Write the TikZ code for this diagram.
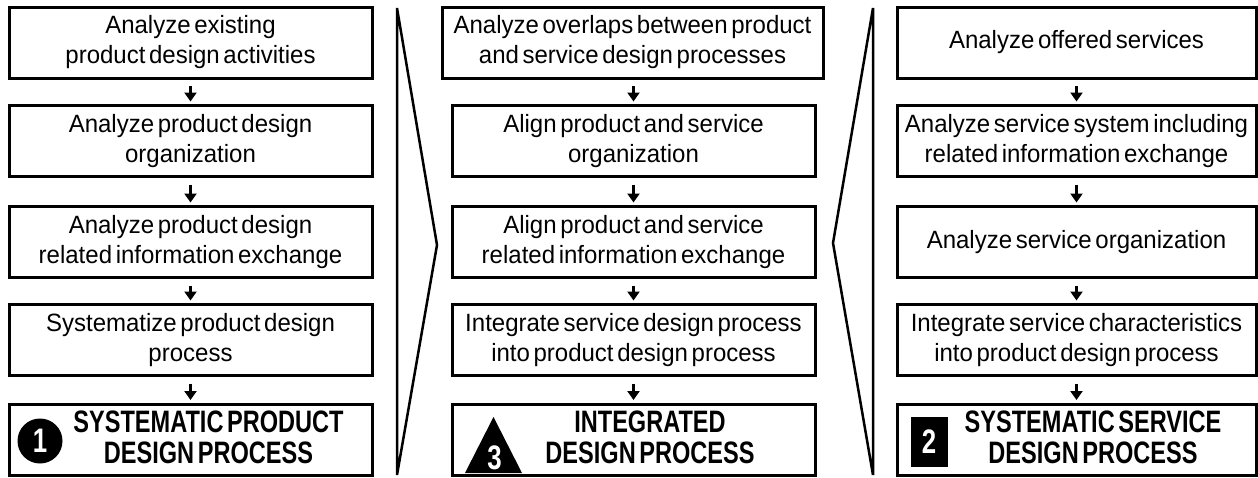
\documentclass[tikz,border=0pt]{standalone}
\usepackage{fontspec}
\setmainfont{Liberation Sans}
\newfontfamily\regfont[FakeStretch=0.96,WordSpace=0.55]{Liberation Sans}
\newfontfamily\boldfont[FakeStretch=0.76,WordSpace=0.55]{Liberation Sans}
\usetikzlibrary{arrows.meta}
\begin{document}
\begin{tikzpicture}[x=1pt,y=-1pt,
  box/.style={draw, line width=3pt, outer sep=0pt, inner sep=0pt,
    minimum height=71pt, align=center,
    font=\regfont\fontsize{25}{30}\selectfont},
  lbox/.style={box, minimum width=363pt},
  mbox/.style={box, minimum width=363pt},
  rbox/.style={box, minimum width=359pt},
  bigtext/.style={inner sep=0pt, outer sep=0pt, align=center,
    font=\boldfont\bfseries\fontsize{31}{31}\selectfont},
  badge/.style={fill=black, draw=none},
  digit/.style={text=white, inner sep=0pt,
    font=\boldfont\bfseries\fontsize{34}{34}\selectfont},
  arr/.style={line width=3pt, -{Triangle[width=12pt,length=9pt]},
    shorten <=8pt, shorten >=4pt},
  chev/.style={line width=2.5pt}]
\useasboundingbox (0,0) rectangle (1258,477);

% left column
\node[lbox] (L1) at (190.5,42.5) {Analyze existing\\product design activities};
\node[lbox] (L2) at (190.5,141) {Analyze product design\\organization};
\node[lbox] (L3) at (190.5,242) {Analyze product design\\related information exchange};
\node[lbox] (L4) at (190.5,340) {Systematize product design\\process};
\node[lbox] (L5) at (190.5,439.5) {};
\node[badge, circle, minimum size=45pt, inner sep=0pt] (B1) at (40,441) {};
\node[digit] (D1) at (B1.center) {1};
\node[bigtext] (T1) at (208.5,437) {SYSTEMATIC PRODUCT\\DESIGN PROCESS};

% middle column
\node[box, minimum width=381pt] (M1) at (632.5,42.5) {Analyze overlaps between product\\and service design processes};
\node[mbox] (M2) at (633.5,141) {Align product and service\\organization};
\node[mbox] (M3) at (633.5,242) {Align product and service\\related information exchange};
\node[mbox] (M4) at (633.5,340) {Integrate service design process\\into product design process};
\node[mbox] (M5) at (633.5,439.5) {};
\fill (465,473) -- (522,473) -- (493.5,417) -- cycle;
\node[digit] (D3) at (494.5,458) {3};
\node[bigtext] (T3) at (650,437) {INTEGRATED\\DESIGN PROCESS};

% right column
\node[rbox] (R1) at (1076.5,42.5) {Analyze offered services};
\node[rbox] (R2) at (1076.5,141) {Analyze service system including\\related information exchange};
\node[rbox] (R3) at (1076.5,242) {Analyze service organization};
\node[rbox] (R4) at (1076.5,340) {Integrate service characteristics\\into product design process};
\node[rbox] (R5) at (1076.5,439.5) {};
\node[badge, rectangle, minimum width=37pt, minimum height=50pt, inner sep=0pt] (B2) at (929,441.5) {};
\node[digit] (D2) at (B2.center) {2};
\node[bigtext] (T2) at (1093,437) {SYSTEMATIC SERVICE\\DESIGN PROCESS};

% arrows
\foreach \c in {L,R} {
  \draw[arr] (\c1.south) -- (\c2.north);
  \draw[arr] (\c2.south) -- (\c3.north);
  \draw[arr] (\c3.south) -- (\c4.north);
  \draw[arr] (\c4.south) -- (\c5.north);
}
\draw[arr] (M1.south -| M2.north) -- (M2.north);
\draw[arr] (M2.south) -- (M3.north);
\draw[arr] (M3.south) -- (M4.north);
\draw[arr] (M4.south) -- (M5.north);

% chevrons
\draw[chev] (397,8) -- (437,245) -- (397,475) -- cycle;
\draw[chev] (873,8) -- (833,243) -- (873,475) -- cycle;
\end{tikzpicture}
\end{document}
